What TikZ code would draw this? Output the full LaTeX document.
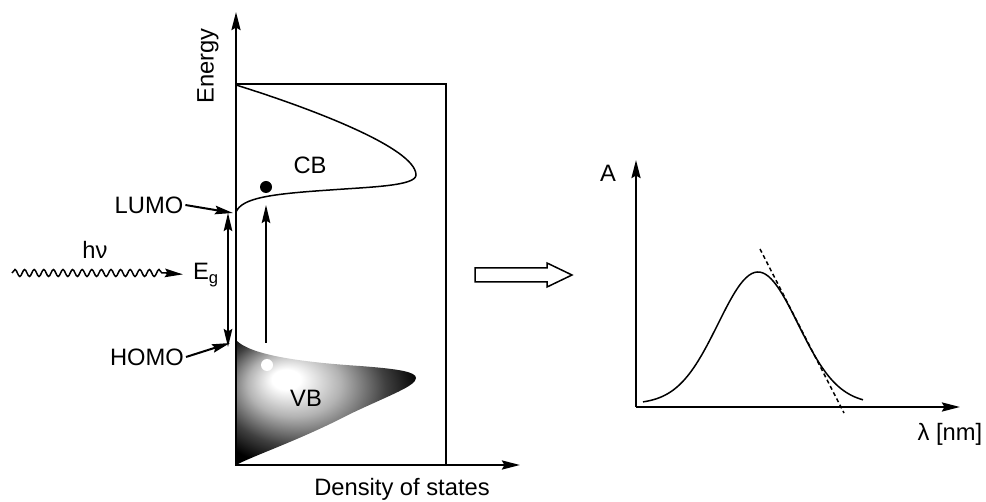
\documentclass[tikz,border=0pt]{standalone}
\usepackage{fontspec}
\setmainfont{Liberation Sans}
\usetikzlibrary{arrows.meta,positioning,decorations.pathmorphing}
% light core of the valence band, dark rim
\pgfdeclareradialshading{vbglow}{\pgfpoint{-12bp}{10bp}}{color(0bp)=(white); color(4bp)=(white); color(13bp)=(black!30); color(23bp)=(black!75); color(31bp)=(black); color(50bp)=(black)}
\tikzset{
  lbl/.style   ={font=\fontsize{13.5}{16}\selectfont, inner sep=1pt},
  frame/.style ={draw=black, line width=0.3mm},
  band/.style  ={line width=0.3mm},
  axis/.style  ={line width=0.5mm, -{Stealth[length=3.6mm,width=1.8mm,inset=0.5mm]}},
  flow/.style  ={line width=0.4mm, -{Stealth[length=3.6mm,width=1.7mm,inset=0.5mm]}},
  twoway/.style={line width=0.4mm, {Stealth[length=3.6mm,width=1.7mm,inset=0.5mm]}-{Stealth[length=3.6mm,width=1.7mm,inset=0.5mm]}},
  wavy/.style  ={decorate, decoration={snake, segment length=1.92mm, amplitude=0.7mm}, line width=0.3mm},
  tangent/.style={line width=0.3mm, dash pattern=on 0.8mm off 0.6mm},
}

\begin{document}
\begin{tikzpicture}[x=0.2mm, y=-0.2mm]
  \useasboundingbox (0,0) rectangle (986,502);
  % density of states panel
  \coordinate (dos0)   at (236,465);
  \coordinate (etip)   at (236,12);
  \coordinate (ebase)  at (236,120);
  \coordinate (dtip)   at (520,465);
  \coordinate (dbase)  at (408,465);
  \coordinate (lumopt) at (233,213);
  \coordinate (homopt) at (230,343);
  \coordinate (gaptop) at (228,213);
  \coordinate (gapbot) at (228,347);
  \coordinate (excbot) at (266,343);
  \coordinate (exctop) at (266,205);
  \coordinate (photon) at (12,273);
  \coordinate (wavend) at (166,273);

  \shade[shading=vbglow] (236,340) .. controls (250,355) and (300,362) .. (360,366)
        .. controls (400,369) and (416,372) .. (416,378)
        .. controls (416,386) and (390,395) .. (350,414)
        .. controls (300,440) and (255,455) .. (236,465) -- cycle;
  \draw[frame] (dos0) rectangle (446,84);
  \draw[band] (236,85) .. controls (310,108) and (416,148) .. (416,175)
        .. controls (416,186) and (370,187) .. (330,190)
        .. controls (270,194) and (242,198) .. (236,212);
  \draw[axis] (ebase) -- (etip);
  \draw[axis] (dbase) -- (dtip);

  \node[lbl, rotate=90] (energy) at (208,66)  {Energy};
  \node[lbl]            (dos)    at (402,489) {Density of states};
  \node[lbl]            (cb)     at (310,165) {CB};
  \node[lbl]            (vb)     at (306,398) {VB};
  \node[lbl]            (lumo)   at (149,205) {LUMO};
  \node[lbl]            (homo)   at (147,357) {HOMO};
  \node[lbl]            (hnu)    at (95,250)  {hν};
  \node[lbl]            (eg)     at (206,275) {E\textsubscript{g}};

  \fill[black] (266,187) circle (1.2mm);
  \fill[white] (267,365) circle (1.2mm);

  \draw[flow] (lumo.east) -- (lumopt);
  \draw[flow] (homo.east) -- (homopt);
  \draw[twoway] (gapbot) -- (gaptop);
  \draw[flow] (excbot) -- (exctop);
  \draw[wavy] (photon) -- (wavend);
  \draw[flow, shorten >=1.6mm] (wavend) -- (eg.west);

  % hollow arrow
  \draw[frame] (475,268) -- (547,268) -- (547,263) -- (572,275) -- (547,287) -- (547,282) -- (475,282) -- cycle;

  % absorption spectrum
  \coordinate (abs0) at (636,407);
  \coordinate (atip) at (636,160);
  \coordinate (ltip) at (960,407);
  \draw[axis] (abs0) -- (atip);
  \draw[axis] (abs0) -- (ltip);
  \node[lbl] (absA) at (608,173) {A};
  \node[lbl] (lam)  at (950,434) {λ [nm]};
  \draw[band] plot[domain=643:863, samples=80, smooth] (\x, {404-132*exp(-((\x-758)^2)/3200)});
  \draw[tangent] (760,249) -- (844,413);
\end{tikzpicture}
\end{document}
